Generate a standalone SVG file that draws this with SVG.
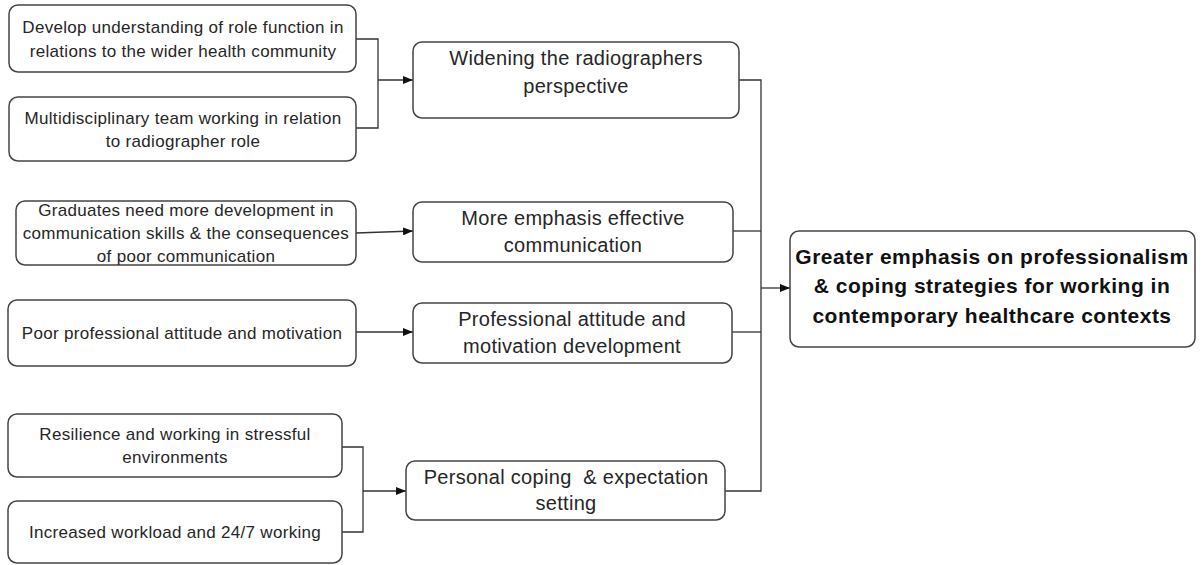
<svg xmlns="http://www.w3.org/2000/svg" width="1203" height="565" viewBox="0 0 1203 565">
<style>
.box{fill:#fff;stroke:#444;stroke-width:1.5}
.t{font-family:"Liberation Sans",Arial,sans-serif;font-size:17px;letter-spacing:0.3px;fill:#262626;text-anchor:middle}
.m{font-family:"Liberation Sans",Arial,sans-serif;font-size:20px;letter-spacing:0.3px;fill:#262626;text-anchor:middle}
.b{font-family:"Liberation Sans",Arial,sans-serif;font-size:21px;letter-spacing:0.5px;font-weight:bold;fill:#111;text-anchor:middle}
.c{fill:none;stroke:#333;stroke-width:1.3}
</style>
<defs>
<marker id="ah" viewBox="0 0 10 10" refX="10" refY="5" markerWidth="10" markerHeight="8" markerUnits="userSpaceOnUse" orient="auto" preserveAspectRatio="none">
<path d="M0,0 L10,5 L0,10 z" fill="#111"/>
</marker>
</defs>
<rect width="1203" height="565" fill="#fff"/>
<g id="connectors">
<path class="c" d="M356,39 H378 V128 H356"/>
<path class="c" d="M378,80 H413" marker-end="url(#ah)"/>
<path class="c" d="M356,233 L413,231" marker-end="url(#ah)"/>
<path class="c" d="M356,332 H413" marker-end="url(#ah)"/>
<path class="c" d="M342,447 H363 V532 H342"/>
<path class="c" d="M363,491 H406" marker-end="url(#ah)"/>
<path class="c" d="M739,80 H761 V491 H725"/>
<path class="c" d="M733,231 H761"/>
<path class="c" d="M732,332 H761"/>
<path class="c" d="M761,288 H790" marker-end="url(#ah)"/>
</g>
<g id="n1"><rect class="box" x="9" y="5" width="347" height="67" rx="9"/>
<text class="t"><tspan x="183" y="33">Develop understanding of role function in</tspan><tspan x="183" y="57">relations to the wider health community</tspan></text></g>
<g id="n2"><rect class="box" x="9" y="97" width="347" height="64" rx="9"/>
<text class="t"><tspan x="183" y="124">Multidisciplinary team working in relation</tspan><tspan x="183" y="147">to radiographer role</tspan></text></g>
<g id="n3"><rect class="box" x="16" y="201" width="340" height="64" rx="9"/>
<text class="t"><tspan x="186" y="216">Graduates need more development in</tspan><tspan x="186" y="239">communication skills &amp; the consequences</tspan><tspan x="186" y="262">of poor communication</tspan></text></g>
<g id="n4"><rect class="box" x="8" y="300" width="348" height="66" rx="9"/>
<text class="t"><tspan x="182" y="339">Poor professional attitude and motivation</tspan></text></g>
<g id="n5"><rect class="box" x="8" y="414" width="334" height="63" rx="9"/>
<text class="t"><tspan x="175" y="440">Resilience and working in stressful</tspan><tspan x="175" y="463">environments</tspan></text></g>
<g id="n6"><rect class="box" x="8" y="501" width="334" height="62" rx="9"/>
<text class="t"><tspan x="175" y="538">Increased workload and 24/7 working</tspan></text></g>
<g id="n7"><rect class="box" x="413" y="42" width="326" height="76" rx="9"/>
<text class="m"><tspan x="576" y="65">Widening the radiographers</tspan><tspan x="576" y="93">perspective</tspan></text></g>
<g id="n8"><rect class="box" x="413" y="202" width="320" height="60" rx="9"/>
<text class="m"><tspan x="573" y="225">More emphasis effective</tspan><tspan x="573" y="252">communication</tspan></text></g>
<g id="n9"><rect class="box" x="413" y="303" width="319" height="60" rx="9"/>
<text class="m"><tspan x="572" y="326">Professional attitude and</tspan><tspan x="572" y="353">motivation development</tspan></text></g>
<g id="n10"><rect class="box" x="406" y="461" width="319" height="59" rx="9"/>
<text class="m"><tspan x="566" y="484">Personal coping&#160; &amp; expectation</tspan><tspan x="566" y="510">setting</tspan></text></g>
<g id="n11"><rect class="box" x="790" y="231" width="405" height="116" rx="9"/>
<text class="b"><tspan x="992" y="264">Greater emphasis on professionalism</tspan><tspan x="992" y="293">&amp; coping strategies for working in</tspan><tspan x="992" y="323">contemporary healthcare contexts</tspan></text></g>
</svg>
